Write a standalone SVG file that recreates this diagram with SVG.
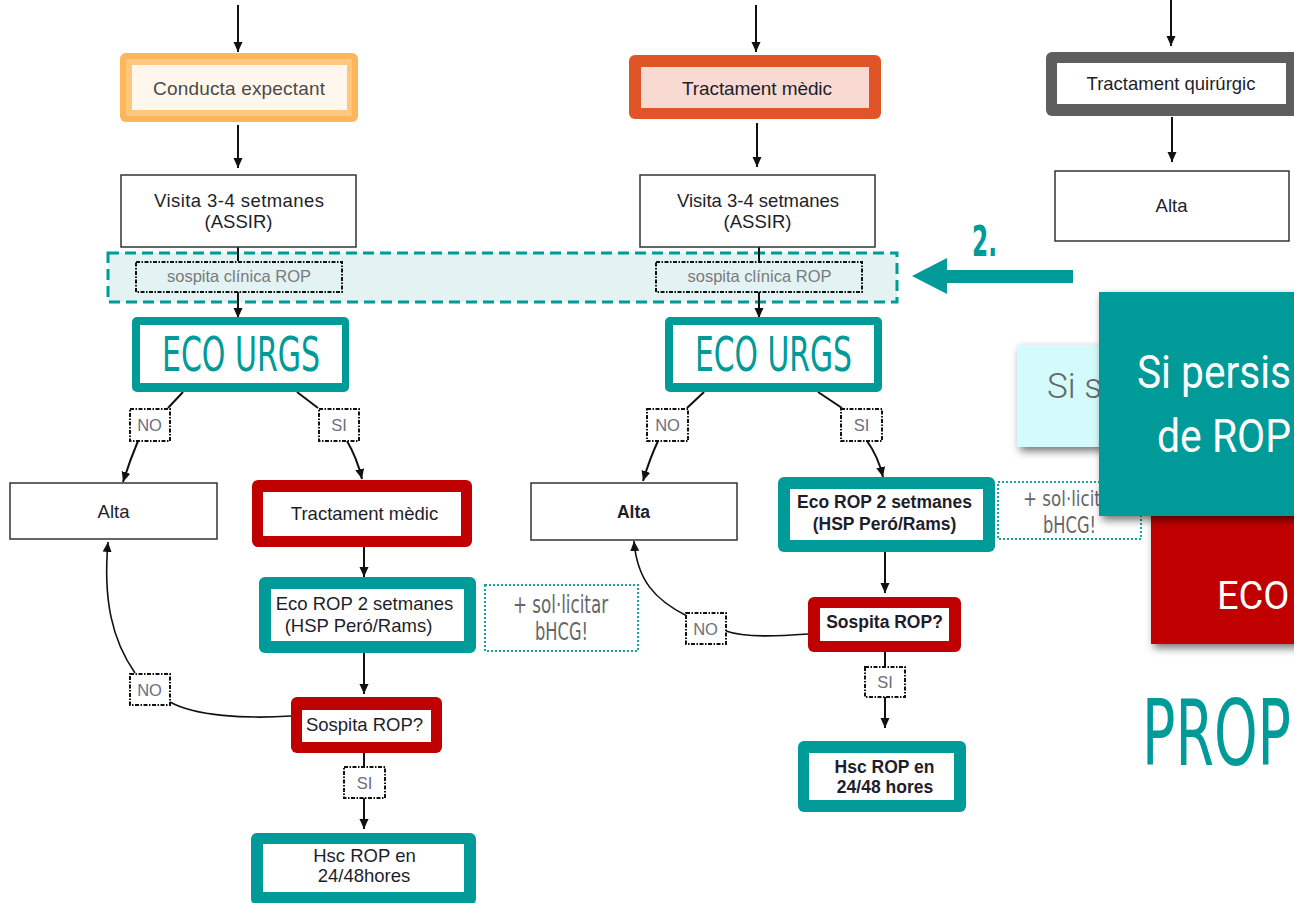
<svg xmlns="http://www.w3.org/2000/svg" width="1294" height="903" viewBox="0 0 1294 903">
<defs>
<style>
.t{font-family:"Liberation Sans",Arial,sans-serif;font-size:18.5px;fill:#1e1e2a;text-anchor:middle}
.b{font-weight:bold;font-size:17.5px}
.sm{font-family:"Liberation Sans",Arial,sans-serif;font-size:16.5px;fill:#7a7a7a;text-anchor:middle}
.lab{font-family:"Liberation Sans",Arial,sans-serif;font-size:16.5px;fill:#6a7080;text-anchor:middle}
.cond{font-family:"Liberation Sans Narrow","DejaVu Sans Condensed","Liberation Sans",sans-serif;text-anchor:middle}
.eco{font-size:48px;fill:#009a98}
.note{font-size:24px;fill:#666}
.lbox{fill:#fff;stroke:#111;stroke-width:2;stroke-dasharray:4 1.5 1.5 1.5}
.sbox{fill:none;stroke:#111;stroke-width:2;stroke-dasharray:4 1.5 1.5 1.5}
.nbox{fill:#fff;stroke:#1aa3a3;stroke-width:2;stroke-dasharray:2 2}
.plain{fill:#fff;stroke:#333;stroke-width:1.5}
.teal{fill:#009a98}
.red{fill:#c00000}
.inner{fill:#fff}
.ln{fill:none;stroke:#111;stroke-width:2}
.cv{fill:none;stroke:#111;stroke-width:1.6}
.arr{marker-end:url(#ah)}
.rob{font-family:Roboto,"Liberation Sans",sans-serif}
</style>
<marker id="ah" viewBox="0 0 10 10" refX="10" refY="5" markerWidth="10" markerHeight="10" markerUnits="userSpaceOnUse" orient="auto">
<path d="M0,0.5 L10,5 L0,9.5 z" fill="#111"/>
</marker>
<filter id="sh" x="-20%" y="-20%" width="140%" height="140%">
<feDropShadow dx="3" dy="4" stdDeviation="4" flood-color="#000" flood-opacity="0.55"/>
</filter>
</defs>
<rect width="1294" height="903" fill="#fff"/>

<!-- band -->
<g id="band">
<rect x="108" y="253" width="789" height="49" fill="#e3f2f2" stroke="#009a98" stroke-width="3" stroke-dasharray="11 6"/>
</g>

<g id="connectors">
<!-- left column -->
<line class="ln arr" x1="238" y1="5" x2="238" y2="52"/>
<line class="ln arr" x1="238" y1="125" x2="238" y2="168"/>
<line class="ln" x1="238" y1="247" x2="238" y2="261"/>
<line class="ln arr" x1="238" y1="292" x2="238" y2="318"/>
<line class="ln" x1="183" y1="392" x2="168" y2="408"/>
<path class="ln arr" d="M138,441 Q130,460 123,482"/>
<line class="ln" x1="297" y1="392" x2="318" y2="408"/>
<path class="ln arr" d="M347,441 Q357,458 362,479"/>
<line class="ln arr" x1="364" y1="547" x2="364" y2="577"/>
<line class="ln arr" x1="364" y1="653" x2="364" y2="694"/>
<line class="ln" x1="364" y1="753" x2="364" y2="767"/>
<line class="ln arr" x1="364" y1="798" x2="364" y2="829"/>
<path class="cv" d="M291,716 C245,719 195,716 170,702"/>
<path class="cv arr" d="M135,673 C112,640 103,600 108,542"/>
<!-- middle column -->
<line class="ln arr" x1="756" y1="5" x2="756" y2="52"/>
<line class="ln arr" x1="757" y1="123" x2="757" y2="167"/>
<line class="ln" x1="759" y1="247" x2="759" y2="261"/>
<line class="ln arr" x1="759" y1="292" x2="759" y2="318"/>
<line class="ln" x1="704" y1="392" x2="687" y2="408"/>
<path class="ln arr" d="M658,441 Q650,458 643,481"/>
<line class="ln" x1="818" y1="392" x2="842" y2="408"/>
<path class="ln arr" d="M867,441 Q878,456 883,477"/>
<line class="ln arr" x1="885" y1="552" x2="885" y2="593"/>
<path class="cv" d="M808,634 C780,636 745,638 726,631"/>
<path class="cv arr" d="M687,616 C655,600 637,580 634,541"/>
<line class="ln" x1="885" y1="652" x2="885" y2="666"/>
<line class="ln arr" x1="885" y1="697" x2="885" y2="728"/>
<!-- right column -->
<line class="ln arr" x1="1171" y1="0" x2="1171" y2="46"/>
<line class="ln arr" x1="1172" y1="117" x2="1172" y2="162"/>
<!-- big teal arrow -->
<polygon points="1073,270 947,270 947,258 912,276 947,294 947,283 1073,283" fill="#009a98"/>
</g>

<!-- LEFT COLUMN -->
<g id="conducta">
<rect x="120" y="53" width="238" height="69" rx="6" fill="#ffb55a"/>
<rect x="126" y="59" width="226" height="57" rx="2" fill="#ffc67d"/>
<rect x="132" y="65" width="215" height="45" fill="#fff6ec"/>
<text class="t" x="239" y="95" textLength="172" style="fill:#4a4a4a;font-size:19px">Conducta expectant</text>
</g>
<g id="visita1">
<rect class="plain" x="121" y="175" width="235" height="72"/>
<text class="t" x="239" y="207" textLength="170">Visita  3-4 setmanes</text>
<text class="t" x="238.5" y="228">(ASSIR)</text>
</g>
<g id="sospita1">
<rect class="sbox" x="136" y="262" width="206" height="30"/>
<text class="sm" x="239" y="282">sospita clínica ROP</text>
</g>
<g id="eco1">
<rect class="teal" x="132" y="317" width="217" height="75" rx="5"/>
<rect class="inner" x="140" y="325" width="202" height="58"/>
<text class="cond eco" x="241" y="371" textLength="158" lengthAdjust="spacingAndGlyphs">ECO URGS</text>
</g>
<g id="no1">
<rect class="lbox" x="130" y="409" width="40" height="32"/>
<text class="lab" x="149.5" y="431">NO</text>
</g>
<g id="si1">
<rect class="lbox" x="319" y="409" width="40" height="32"/>
<text class="lab" x="339" y="431">SI</text>
</g>
<g id="alta1">
<rect class="plain" x="10" y="483" width="207" height="56"/>
<text class="t" x="113.5" y="518">Alta</text>
</g>
<g id="trac1">
<rect class="red" x="252" y="480" width="220" height="67" rx="6"/>
<rect class="inner" x="263" y="492" width="198" height="44"/>
<text class="t" x="364.5" y="520">Tractament mèdic</text>
</g>
<g id="ecorop1">
<rect class="teal" x="259" y="577" width="217" height="76" rx="6"/>
<rect class="inner" x="271" y="589" width="193" height="52"/>
<text class="t" x="364.5" y="610">Eco ROP 2 setmanes</text>
<text class="t" x="358.5" y="632">(HSP Peró/Rams)</text>
</g>
<g id="note1">
<rect class="nbox" x="485" y="585" width="153" height="66"/>
<text class="cond note" x="560.5" y="613" textLength="95" lengthAdjust="spacingAndGlyphs">+ sol·licitar</text>
<text class="cond note" x="561.5" y="640" textLength="53" lengthAdjust="spacingAndGlyphs">bHCG!</text>
</g>
<g id="sosp1">
<rect class="red" x="291" y="697" width="151" height="56" rx="6"/>
<rect class="inner" x="302" y="710" width="129" height="32"/>
<text class="t" x="364.5" y="731">Sospita ROP?</text>
</g>
<g id="si1b">
<rect class="lbox" x="344" y="767" width="41" height="31"/>
<text class="lab" x="364.5" y="789">SI</text>
</g>
<g id="no1b">
<rect class="lbox" x="130" y="674" width="40" height="31"/>
<text class="lab" x="149.5" y="696">NO</text>
</g>
<g id="hsc1">
<rect class="teal" x="251" y="833" width="225" height="72" rx="6"/>
<rect class="inner" x="263" y="844" width="201" height="48"/>
<text class="t" x="364.5" y="862">Hsc ROP en</text>
<text class="t" x="364" y="882">24/48hores</text>
</g>

<!-- MIDDLE COLUMN -->
<g id="trac2">
<rect x="629" y="55" width="252" height="64" rx="6" fill="#e05528"/>
<rect x="641" y="67" width="228" height="41" fill="#f8dad2"/>
<text class="t" x="757" y="95" textLength="150" style="font-size:19px">Tractament mèdic</text>
</g>
<g id="visita2">
<rect class="plain" x="640" y="175" width="235" height="72"/>
<text class="t" x="758" y="207">Visita 3-4 setmanes</text>
<text class="t" x="757.5" y="228">(ASSIR)</text>
</g>
<g id="sospita2">
<rect class="sbox" x="656" y="262" width="206" height="30"/>
<text class="sm" x="759.5" y="282">sospita clínica ROP</text>
</g>
<g id="eco2">
<rect class="teal" x="665" y="317" width="217" height="75" rx="5"/>
<rect class="inner" x="673" y="325" width="201" height="58"/>
<text class="cond eco" x="773.5" y="371" textLength="157" lengthAdjust="spacingAndGlyphs">ECO URGS</text>
</g>
<g id="no2">
<rect class="lbox" x="647" y="409" width="41" height="32"/>
<text class="lab" x="667.5" y="431">NO</text>
</g>
<g id="si2">
<rect class="lbox" x="841" y="409" width="41" height="32"/>
<text class="lab" x="861.5" y="431">SI</text>
</g>
<g id="alta2">
<rect class="plain" x="531" y="483" width="206" height="57"/>
<text class="t b" x="633.5" y="518">Alta</text>
</g>
<g id="ecorop2">
<rect class="teal" x="778" y="477" width="217" height="75" rx="6"/>
<rect class="inner" x="790" y="489" width="193" height="51"/>
<text class="t b" x="884.5" y="508">Eco ROP 2 setmanes</text>
<text class="t b" x="884.5" y="530">(HSP Peró/Rams)</text>
</g>
<g id="note2">
<rect class="nbox" x="998" y="482" width="143" height="57"/>
<text class="cond" x="1023" y="506" textLength="95" lengthAdjust="spacingAndGlyphs" style="text-anchor:start;font-size:21px;fill:#666">+ sol·licitar</text>
<text class="cond" x="1069.5" y="533" textLength="53" lengthAdjust="spacingAndGlyphs" style="font-size:23px;fill:#666">bHCG!</text>
</g>
<g id="sosp2">
<rect class="red" x="808" y="597" width="153" height="55" rx="6"/>
<rect class="inner" x="820" y="608" width="129" height="33"/>
<text class="t b" x="884.5" y="628">Sospita ROP?</text>
</g>
<g id="no2b">
<rect class="lbox" x="686" y="613" width="40" height="31"/>
<text class="lab" x="705.5" y="635">NO</text>
</g>
<g id="si2b">
<rect class="lbox" x="865" y="667" width="40" height="30"/>
<text class="lab" x="885" y="688">SI</text>
</g>
<g id="hsc2">
<rect class="teal" x="798" y="741" width="168" height="71" rx="6"/>
<rect class="inner" x="809" y="753" width="145" height="47"/>
<text class="t b" x="884.5" y="773">Hsc ROP en</text>
<text class="t b" x="885" y="793">24/48 hores</text>
</g>

<!-- RIGHT COLUMN -->
<g id="trac3">
<rect x="1046" y="52" width="260" height="64" rx="6" fill="#5e5e5e"/>
<rect class="inner" x="1057" y="63" width="229" height="41"/>
<text class="t" x="1171" y="90">Tractament quirúrgic</text>
</g>
<g id="alta3">
<rect class="plain" x="1055" y="171" width="234" height="70"/>
<text class="t" x="1171.5" y="212">Alta</text>
</g>
<g id="step2">
<text class="cond" x="984.5" y="256" textLength="25" lengthAdjust="spacingAndGlyphs" style="font-size:43px;font-weight:bold;fill:#009a98">2.</text>
</g>

<!-- OVERLAY CARDS -->
<g id="card-light">
<rect x="1017" y="345" width="140" height="102" fill="#d4fbfb" filter="url(#sh)"/>
<text class="rob" x="1047" y="398" style="font-size:35px;font-weight:300;fill:#666">Si s</text>
</g>
<g id="card-red">
<rect x="1151" y="500" width="160" height="144" fill="#c00000" filter="url(#sh)"/>
<text class="rob" x="1217" y="609" style="font-size:38px;fill:#fff">ECO</text>
</g>
<g id="card-teal">
<rect x="1099" y="292" width="220" height="224" fill="#009a98" filter="url(#sh)"/>
<text class="rob" x="1137" y="388" textLength="154" lengthAdjust="spacingAndGlyphs" style="font-size:46px;fill:#fff">Si persis</text>
<text class="rob" x="1157" y="452" textLength="134" lengthAdjust="spacingAndGlyphs" style="font-size:46px;fill:#fff">de ROP</text>
</g>
<g id="title">
<text class="cond" x="1142" y="765" textLength="149" lengthAdjust="spacingAndGlyphs" style="text-anchor:start;font-size:90px;fill:#009a98">PROP</text>
</g>
</svg>
